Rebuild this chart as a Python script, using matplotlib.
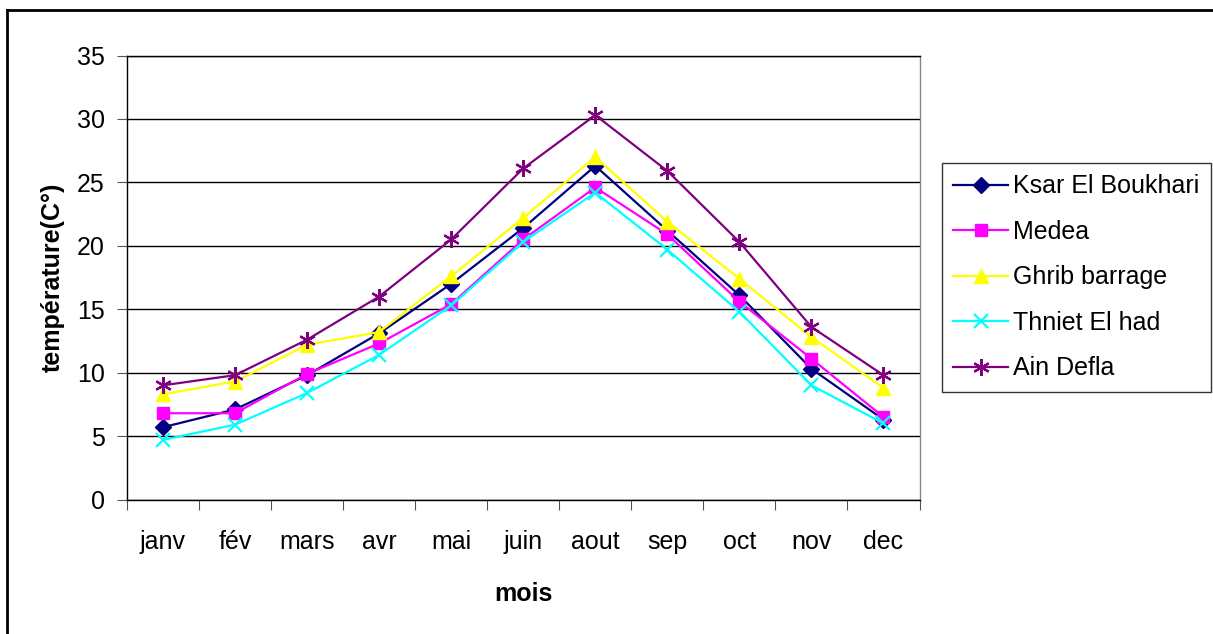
import matplotlib
matplotlib.use("Agg")
import matplotlib.pyplot as plt
from matplotlib.lines import Line2D
import numpy as np

plt.rcParams['font.family'] = ['Liberation Sans', 'DejaVu Sans']

# mean monthly temperature per station
mois = ['janv', 'fév', 'mars', 'avr', 'mai', 'juin', 'aout', 'sep', 'oct', 'nov', 'dec']
ksar = [5.7, 7.1, 9.8, 13.1, 17.0, 21.4, 26.3, 21.2, 16.1, 10.3, 6.3]
medea = [6.8, 6.8, 9.9, 12.3, 15.4, 20.5, 24.6, 20.9, 15.6, 11.1, 6.5]
ghrib = [8.3, 9.3, 12.2, 13.2, 17.6, 22.2, 27.0, 21.9, 17.4, 12.8, 8.8]
thniet = [4.7, 5.9, 8.4, 11.4, 15.3, 20.3, 24.2, 19.7, 14.8, 9.0, 6.0]
ain_defla = [9.0, 9.8, 12.6, 16.0, 20.5, 26.1, 30.3, 25.9, 20.3, 13.6, 9.8]

stations = ['Ksar El Boukhari', 'Medea', 'Ghrib barrage', 'Thniet El had', 'Ain Defla']
series = [ksar, medea, ghrib, thniet, ain_defla]
couleurs = ['#000080', '#FF00FF', '#FFFF00', '#00FFFF', '#800080']
marqueurs = ['D', 's', '^', 'x', (6, 2, 0)]
tailles = [8, 9, 10, 10, 12]

W, H = 1213, 634
fig = plt.figure(figsize=(W / 100, H / 100), dpi=100)
ax = fig.add_axes([127 / W, 1 - 499.5 / H, (919.5 - 127) / W, (499.5 - 55.5) / H])

x = np.arange(len(mois))
for vals, nom, c, m, s in zip(series, stations, couleurs, marqueurs, tailles):
    ax.plot(x, vals, color=c, marker=m, markersize=s, lw=1.6, label=nom,
            markeredgewidth=1.6 if m in ('x', (6, 2, 0)) else 1.0, clip_on=False)

ax.set_ylim(0, 35)
ax.set_yticks(np.arange(0, 36, 5))
ax.yaxis.grid(True, color='black', lw=1.0)
ax.set_axisbelow(True)

ax.set_xlim(-0.5, len(mois) - 0.5)
ax.set_xticks(np.arange(-0.5, len(mois)), labels=[])
ax.set_xticks(x, labels=mois, minor=True)
ax.tick_params(axis='x', which='minor', length=0, pad=22, labelsize=18)
ax.tick_params(axis='x', which='major', length=7, direction='out', color='#555555')
ax.tick_params(axis='y', length=7, direction='out', color='#555555', labelsize=18, pad=9)

for sp in ax.spines.values():
    sp.set_color('black')
    sp.set_linewidth(1.0)
ax.spines['right'].set_color('#888888')

ax.set_xlabel('mois', fontsize=18, fontweight='bold', labelpad=20)
ax.set_ylabel('température(C°)', fontsize=18, fontweight='bold', labelpad=9)

leg = ax.legend(loc='upper left', bbox_to_anchor=(942 / W, 1 - 163 / H),
                bbox_transform=fig.transFigure, fontsize=18, frameon=True,
                fancybox=False, edgecolor='black', borderpad=0.45, labelspacing=0.86,
                handlelength=2.2, handletextpad=0.2, borderaxespad=0)
leg.get_frame().set_linewidth(1.0)

# outer chart frame (top and left edges visible)
fig.add_artist(Line2D([7 / W, 1], [1 - 10 / H, 1 - 10 / H], color='black', lw=2, transform=fig.transFigure))
fig.add_artist(Line2D([7 / W, 7 / W], [0, 1 - 10 / H], color='black', lw=2, transform=fig.transFigure))

fig.savefig('out.png', dpi=100)
